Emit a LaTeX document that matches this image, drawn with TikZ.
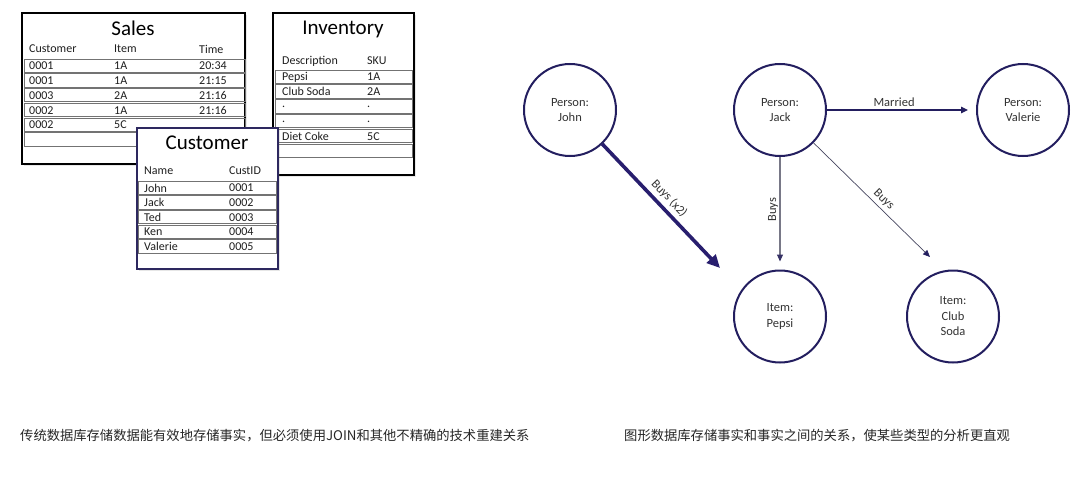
\documentclass[tikz,border=0pt]{standalone}
\usepackage{fontspec}
\setmainfont{Carlito}
\newfontfamily\cjk{Noto Sans CJK SC}
\usetikzlibrary{arrows.meta,shadows}
\definecolor{navy}{RGB}{35,30,95}
\definecolor{navythick}{RGB}{40,30,110}
\definecolor{custborder}{RGB}{45,40,95}
\definecolor{graytip}{RGB}{120,120,135}
\definecolor{darkline}{RGB}{70,70,95}
\tikzset{
  tablebox/.style={draw=black, line width=1.6pt, fill=white, drop shadow={opacity=0.18, shadow xshift=1.5pt, shadow yshift=-1.5pt}},
  custbox/.style={draw=custborder, line width=1.8pt, fill=white, drop shadow={opacity=0.2, shadow xshift=1.5pt, shadow yshift=-1.5pt}},
  rowline/.style={draw=black!55, line width=0.7pt},
  cell/.style={anchor=west, inner sep=0pt, font=\fontsize{12}{14}\selectfont, text=black!88},
  tabtitle/.style={inner sep=0pt, font=\fontsize{21}{24}\selectfont, text=black},
  circ/.style={circle, draw=navy, line width=2pt, minimum size=92pt, inner sep=0pt, align=center, font=\fontsize{12.5}{15.5}\selectfont, text=black!80},
  lbl/.style={inner sep=1.2pt, font=\fontsize{12.5}{14}\selectfont, text=black!80},
  caption/.style={anchor=west, inner sep=0pt, font=\cjk\fontsize{13.3}{16}\selectfont, text=black!85}
}
\begin{document}
\begin{tikzpicture}[x=1pt,y=-1pt]
\useasboundingbox (0,0) rectangle (1080,479);

% ---------- Sales ----------
\path[tablebox] (22,13) rectangle (245,164);
\node[tabtitle] (salesT) at (133,28) {Sales};
\node[cell] (sh1) at (29,49) {Customer};
\node[cell] (sh2) at (114,49) {Item};
\node[cell] (sh3) at (199,49) {Time};
\foreach [count=\i] \a/\b/\c in {0001/1A/20:34, 0001/1A/21:15, 0003/2A/21:16, 0002/1A/21:16, 0002/5C/, //} {
  \pgfmathsetmacro\yy{59+(\i-1)*14.75}
  \draw[rowline] (24,\yy) rectangle (245,\yy+13.3);
  \node[cell] (sa\i) at (29,\yy+7) {\a};
  \node[cell] (sb\i) at (114,\yy+7) {\b};
  \node[cell] (sc\i) at (199,\yy+7) {\c};
}

% ---------- Inventory ----------
\path[tablebox] (273,13) rectangle (414,175);
\node[tabtitle] (invT) at (343,29) {Inventory};
\node[cell] (ih1) at (282,61) {Description};
\node[cell] (ih2) at (367,61) {SKU};
\foreach [count=\i] \a/\b in {Pepsi/1A, Club Soda/2A, ./., ./., Diet Coke/5C, /} {
  \pgfmathsetmacro\yy{70+(\i-1)*14.8}
  \draw[rowline] (275,\yy) rectangle (412,\yy+13.3);
  \node[cell] (ia\i) at (282,\yy+7) {\a};
  \node[cell] (ib\i) at (367,\yy+7) {\b};
}

% ---------- Customer ----------
\path[custbox] (137,128) rectangle (278,269);
\node[tabtitle] (custT) at (207,143) {Customer};
\node[cell] (ch1) at (144,171) {Name};
\node[cell] (ch2) at (229,171) {CustID};
\foreach [count=\i] \a/\b in {John/0001, Jack/0002, Ted/0003, Ken/0004, Valerie/0005} {
  \pgfmathsetmacro\yy{181+(\i-1)*14.7}
  \draw[rowline] (138,\yy) rectangle (276,\yy+13.3);
  \node[cell] (ca\i) at (144,\yy+7) {\a};
  \node[cell] (cb\i) at (229,\yy+7) {\b};
}

% ---------- Graph ----------
\node[circ] (john) at (570,110) {Person:\\John};
\node[circ] (jack) at (780,110) {Person:\\Jack};
\node[circ] (valerie) at (1023,110) {Person:\\Valerie};
\node[circ] (pepsi) at (780,316.5) {Item:\\Pepsi};
\node[circ] (club) at (953,316.5) {Item:\\Club\\Soda};

\coordinate (jtip) at (720,268);
\coordinate (ctip) at (930,257);

\draw[navythick, line width=3.6pt, -{Triangle[length=13pt,width=12pt]}]
  (john) -- (jtip) node[midway, sloped, above=2.5pt, lbl] (lbuys2) {Buys (x2)};
\draw[navy, line width=1.1pt, shorten >=8pt, -{Triangle[length=7pt,width=6.5pt]}]
  (jack) -- (valerie) node[pos=0.45, above=1.5pt, lbl] (lmarried) {Married};
\draw[graytip, line width=1.1pt, shorten >=8pt, -{Triangle[length=7pt,width=6pt, color=navy!80!gray, fill=navy!80!gray]}]
  (jack) -- (pepsi) node[pos=0.47, rotate=90, anchor=south, lbl] (lbuysp) {Buys};
\draw[darkline, line width=0.7pt, -{Triangle[length=7pt,width=6pt, color=navy, fill=navy]}]
  (jack) -- (ctip) node[pos=0.55, sloped, above=2pt, lbl] (lbuysc) {Buys};

% ---------- Captions ----------
\node[caption] (capl) at (20,436) {传统数据库存储数据能有效地存储事实，但必须使用JOIN和其他不精确的技术重建关系};
\node[caption] (capr) at (624,436) {图形数据库存储事实和事实之间的关系，使某些类型的分析更直观};
\end{tikzpicture}
\end{document}
